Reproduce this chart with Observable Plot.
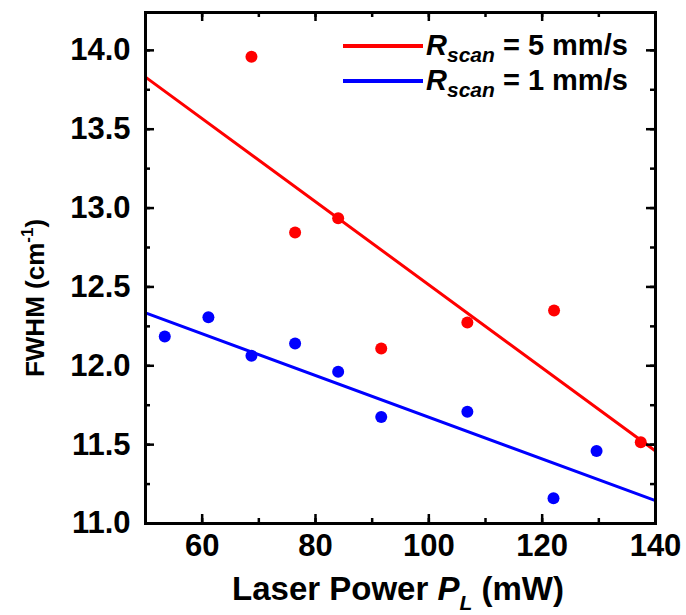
<!DOCTYPE html>
<html><head><meta charset="utf-8">
<script src="https://cdn.jsdelivr.net/npm/d3@7"></script>
<script src="https://cdn.jsdelivr.net/npm/@observablehq/plot@0.6"></script>
<style>body{margin:0;background:#fff}</style>
</head><body><div id="chart"></div>
<script>
// Data
const powerRed = [68.7, 76.4, 84.0, 91.6, 106.8, 122.1, 137.4];
const fwhmRed  = [13.96, 12.845, 12.936, 12.11, 12.275, 12.35, 11.515];
const powerBlue = [53.4, 61.1, 68.7, 76.4, 84.0, 91.6, 106.8, 122.0, 129.6];
const fwhmBlue  = [12.186, 12.307, 12.064, 12.142, 11.962, 11.676, 11.708, 11.16, 11.46];
const fitX = [50, 140];
const fitRed = [13.83, 11.46];
const fitBlue = [12.335, 11.145];
const xTicks = [60, 80, 100, 120, 140];
const xMinor = [50, 60, 70, 80, 90, 100, 110, 120, 130, 140];
const yTicks = [11.0, 11.5, 12.0, 12.5, 13.0, 13.5, 14.0];
const yMinor = [11.0, 11.25, 11.5, 11.75, 12.0, 12.25, 12.5, 12.75, 13.0, 13.25, 13.5, 13.75, 14.0];
const seriesNames = ["5 mm/s", "1 mm/s"];
const seriesColors = ["#ff0000", "#0000ff"];

const W = 686, H = 615;
const mL = 145, mR = 31, mT = 12, mB = 92;
const iw = W - mL - mR, ih = H - mT - mB;
const font = "'Liberation Sans', Arial, sans-serif";
const MAJ = 9, MIN = 5;

const red = powerRed.map((x, i) => ({x, y: fwhmRed[i]}));
const blue = powerBlue.map((x, i) => ({x, y: fwhmBlue[i]}));
const lineRed = fitX.map((x, i) => ({x, y: fitRed[i]}));
const lineBlue = fitX.map((x, i) => ({x, y: fitBlue[i]}));

const tickStyle = {stroke: "black", strokeWidth: 2.5};
const plot = Plot.plot({
  width: W, height: H,
  marginLeft: mL, marginRight: mR, marginTop: mT, marginBottom: mB,
  x: {domain: [50, 140]},
  y: {domain: [11.0, 14.24]},
  style: {fontFamily: font, background: "white", color: "black"},
  marks: [
    Plot.line(lineRed, {x: "x", y: "y", stroke: seriesColors[0], strokeWidth: 3}),
    Plot.line(lineBlue, {x: "x", y: "y", stroke: seriesColors[1], strokeWidth: 3}),
    Plot.dot(red, {x: "x", y: "y", r: 6, fill: seriesColors[0]}),
    Plot.dot(blue, {x: "x", y: "y", r: 6, fill: seriesColors[1]}),
    // inward ticks: bottom / top
    Plot.ruleX(xMinor, {x: d => d, insetTop: ih - MIN, ...tickStyle}),
    Plot.ruleX(xTicks, {x: d => d, insetTop: ih - MAJ, ...tickStyle}),
    Plot.ruleX(xMinor, {x: d => d, insetBottom: ih - MIN, ...tickStyle}),
    Plot.ruleX(xTicks, {x: d => d, insetBottom: ih - MAJ, ...tickStyle}),
    // left / right
    Plot.ruleY(yMinor, {y: d => d, insetRight: iw - MIN, ...tickStyle}),
    Plot.ruleY(yTicks, {y: d => d, insetRight: iw - MAJ, ...tickStyle}),
    Plot.ruleY(yMinor, {y: d => d, insetLeft: iw - MIN, ...tickStyle}),
    Plot.ruleY(yTicks, {y: d => d, insetLeft: iw - MAJ, ...tickStyle}),
    Plot.frame({stroke: "black", strokeWidth: 3}),
    Plot.axisX(xTicks, {tickSize: 0, tickPadding: 10, fontSize: 31, fontWeight: "bold", label: null, fill: "black"}),
    Plot.axisY(yTicks, {tickSize: 0, tickPadding: 15, fontSize: 31, fontWeight: "bold", label: null, tickFormat: d3.format(".1f"), fill: "black"})
  ]
});
document.getElementById("chart").appendChild(plot);

const svg = d3.select(plot);

// X title
const xt = svg.append("text")
  .attr("x", mL + iw / 2 - 2).attr("y", 600)
  .attr("text-anchor", "middle")
  .attr("font-family", font).attr("font-weight", "bold").attr("font-size", 33).attr("fill", "black");
xt.append("tspan").text("Laser Power ");
xt.append("tspan").attr("font-style", "italic").text("P");
xt.append("tspan").attr("font-style", "italic").attr("font-size", 21).attr("dy", 10).text("L");
xt.append("tspan").attr("dy", -10).text(" (mW)");

// Y title
const yt = svg.append("text")
  .attr("transform", `translate(44,298) rotate(-90)`)
  .attr("text-anchor", "middle")
  .attr("font-family", font).attr("font-weight", "bold").attr("font-size", 26).attr("fill", "black");
yt.append("tspan").text("FWHM (cm");
yt.append("tspan").attr("font-size", 17).attr("dy", -11).text("-1");
yt.append("tspan").attr("dy", 11).text(")");

// Legend
const leg = svg.append("g").attr("font-family", font).attr("font-weight", "bold").attr("fill", "black");
seriesNames.forEach((name, i) => {
  const cy = 46 + i * 35;
  leg.append("line").attr("x1", 343).attr("x2", 423).attr("y1", cy).attr("y2", cy)
    .attr("stroke", seriesColors[i]).attr("stroke-width", 4);
  const t = leg.append("text").attr("x", 426).attr("y", cy + 9).attr("font-size", 29)
    .attr("text-anchor", "start");
  t.append("tspan").attr("font-style", "italic").text("R");
  t.append("tspan").attr("font-style", "italic").attr("font-size", 21).attr("dy", 7).text("scan");
  t.append("tspan").attr("dy", -7).text(" = " + name);
});
</script>
</body></html>
